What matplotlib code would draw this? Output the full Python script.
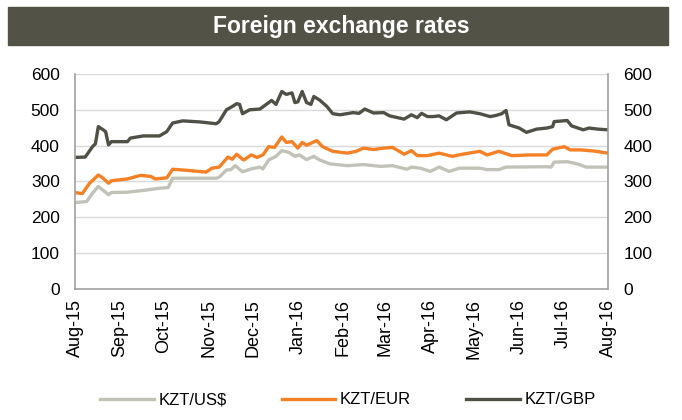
import matplotlib
matplotlib.use("Agg")
import matplotlib.pyplot as plt
import matplotlib.dates as mdates
import pandas as pd

# values
gbp_dates = ["2015-08-01", "2015-08-08", "2015-08-13", "2015-08-15", "2015-08-17", "2015-08-20",
             "2015-08-22", "2015-08-24", "2015-08-26", "2015-09-06", "2015-09-08", "2015-09-17",
             "2015-09-28", "2015-10-03", "2015-10-07", "2015-10-14", "2015-10-26", "2015-11-06",
             "2015-11-08", "2015-11-13", "2015-11-17", "2015-11-20", "2015-11-22", "2015-11-24",
             "2015-11-29", "2015-12-06", "2015-12-10", "2015-12-14", "2015-12-17", "2015-12-21",
             "2015-12-24", "2015-12-28", "2015-12-30", "2016-01-01", "2016-01-04", "2016-01-07",
             "2016-01-10", "2016-01-12", "2016-01-16", "2016-01-21", "2016-01-25", "2016-01-30",
             "2016-02-08", "2016-02-12", "2016-02-16", "2016-02-22", "2016-02-29", "2016-03-04",
             "2016-03-14", "2016-03-19", "2016-03-23", "2016-03-26", "2016-03-30", "2016-04-03",
             "2016-04-07", "2016-04-12", "2016-04-19", "2016-04-28", "2016-05-05", "2016-05-12",
             "2016-05-16", "2016-05-20", "2016-05-23", "2016-05-25", "2016-06-01", "2016-06-06",
             "2016-06-13", "2016-06-20", "2016-06-24", "2016-06-25", "2016-07-04", "2016-07-07",
             "2016-07-15", "2016-07-19", "2016-07-25", "2016-08-01"]
gbp = [367, 368, 397, 405, 453, 445, 439, 402, 411, 411, 421, 427,
       427, 439, 463, 469, 466, 461, 467, 500, 509, 517, 515, 489,
       500, 502, 514, 526, 515, 551, 543, 547, 520, 522, 551, 520,
       515, 537, 527, 509, 489, 486, 492, 490, 502, 491, 492, 483,
       474, 486, 478, 490, 481, 481, 483, 472, 491, 494, 489, 481,
       484, 489, 498, 458, 449, 437, 446, 449, 453, 467, 470, 455,
       444, 449, 446, 444]

eur_dates = ["2015-08-01", "2015-08-06", "2015-08-11", "2015-08-17", "2015-08-20", "2015-08-24",
             "2015-08-26", "2015-09-06", "2015-09-15", "2015-09-22", "2015-09-25", "2015-10-03",
             "2015-10-07", "2015-10-17", "2015-10-30", "2015-11-03", "2015-11-08", "2015-11-14",
             "2015-11-17", "2015-11-20", "2015-11-24", "2015-11-25", "2015-11-30", "2015-12-04",
             "2015-12-08", "2015-12-12", "2015-12-16", "2015-12-21", "2015-12-24", "2015-12-28",
             "2016-01-01", "2016-01-04", "2016-01-07", "2016-01-14", "2016-01-18", "2016-01-25",
             "2016-02-04", "2016-02-10", "2016-02-15", "2016-02-22", "2016-02-29", "2016-03-06",
             "2016-03-14", "2016-03-19", "2016-03-23", "2016-03-30", "2016-04-07", "2016-04-16",
             "2016-04-23", "2016-05-05", "2016-05-10", "2016-05-18", "2016-05-27", "2016-06-08",
             "2016-06-20", "2016-06-24", "2016-07-02", "2016-07-06", "2016-07-13", "2016-07-22",
             "2016-08-01"]
eur = [269, 266, 295, 318, 310, 295, 302, 307, 317, 314, 307, 310,
       334, 331, 326, 337, 340, 368, 362, 376, 362, 360, 374, 367,
       374, 397, 395, 424, 409, 411, 393, 409, 401, 414, 397, 384,
       379, 384, 393, 389, 393, 395, 376, 386, 372, 372, 379, 370,
       376, 384, 374, 384, 372, 374, 374, 390, 397, 388, 388, 385,
       379]

usd_dates = ["2015-08-01", "2015-08-09", "2015-08-13", "2015-08-17", "2015-08-20", "2015-08-24",
             "2015-08-26", "2015-09-06", "2015-09-17", "2015-09-28", "2015-10-04", "2015-10-07",
             "2015-10-21", "2015-11-06", "2015-11-08", "2015-11-13", "2015-11-16", "2015-11-19",
             "2015-11-24", "2015-11-30", "2015-12-06", "2015-12-08", "2015-12-12", "2015-12-17",
             "2015-12-21", "2015-12-26", "2015-12-30", "2016-01-02", "2016-01-07", "2016-01-12",
             "2016-01-16", "2016-01-23", "2016-02-04", "2016-02-15", "2016-02-27", "2016-03-06",
             "2016-03-16", "2016-03-19", "2016-03-25", "2016-04-01", "2016-04-07", "2016-04-14",
             "2016-04-21", "2016-05-05", "2016-05-10", "2016-05-18", "2016-05-23", "2016-06-20",
             "2016-06-23", "2016-06-25", "2016-07-04", "2016-07-11", "2016-07-17", "2016-08-01"]
usd = [241, 244, 267, 286, 276, 263, 269, 270, 275, 281, 283, 309,
       309, 309, 312, 332, 333, 344, 327, 335, 340, 335, 360, 370,
       386, 381, 370, 374, 361, 370, 360, 349, 344, 347, 342, 344,
       334, 340, 337, 328, 340, 328, 337, 337, 333, 333, 340, 341,
       340, 354, 355, 349, 340, 340]

y_ticks = [0, 100, 200, 300, 400, 500, 600]

c_usd = "#c3c2b8"
c_eur = "#f58025"
c_gbp = "#505046"

plt.rcParams["font.family"] = ["Liberation Sans", "DejaVu Sans"]

fig = plt.figure(figsize=(6.82, 4.2), dpi=100)
ax = fig.add_axes([0.110, 0.312, 0.7815, 0.512])

ax.plot(pd.to_datetime(usd_dates), usd, color=c_usd, lw=2.4, label="KZT/US$")
ax.plot(pd.to_datetime(eur_dates), eur, color=c_eur, lw=2.4, label="KZT/EUR")
ax.plot(pd.to_datetime(gbp_dates), gbp, color=c_gbp, lw=2.4, label="KZT/GBP")

ax.set_xlim(pd.Timestamp("2015-08-01"), pd.Timestamp("2016-08-01"))
ax.set_ylim(0, 600)
ax.set_yticks(y_ticks)
ax.xaxis.set_major_locator(mdates.MonthLocator())
ax.xaxis.set_major_formatter(mdates.DateFormatter("%b-%y"))
ax.grid(axis="y", color="#d9d9d9", lw=1)
ax.set_axisbelow(True)

for s in ["left", "bottom", "right"]:
    ax.spines[s].set_color("#a0a0a0")
    ax.spines[s].set_linewidth(1.2)
ax.spines["top"].set_visible(False)

ax.tick_params(axis="y", length=0, labelsize=12.5, pad=11, labelright=True)
ax.tick_params(axis="x", length=0, labelsize=13, pad=7, rotation=90)

fig.legend(loc="center", bbox_to_anchor=(348 / 682, 1 - 400 / 420), ncol=3, frameon=False,
           fontsize=12, handlelength=3.2, columnspacing=3.3, handletextpad=0.3)

# dark title bar
fig.patches.append(plt.Rectangle((8 / 682, 1 - 45 / 420), 660 / 682, 38 / 420,
                                 transform=fig.transFigure, color="#525246", zorder=0))
fig.text(0.5, 1 - 26 / 420, "Foreign exchange rates", color="white", fontsize=16.5,
         fontweight="bold", ha="center", va="center")

fig.savefig("out.png", dpi=100)
